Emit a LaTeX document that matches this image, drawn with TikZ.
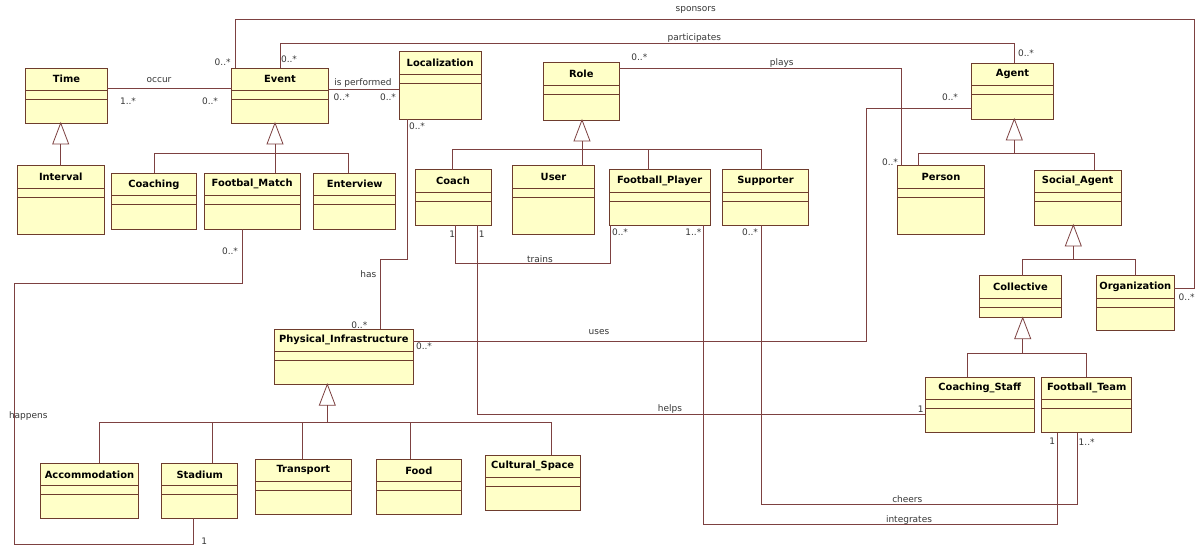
\documentclass[tikz,border=0pt]{standalone}
\usepackage{fontspec}
\setmainfont{DejaVu Sans}
\usetikzlibrary{calc}
\definecolor{boxfill}{RGB}{255,255,200}
\definecolor{boxline}{RGB}{110,60,45}
\definecolor{assoc}{RGB}{125,65,65}
\definecolor{lbl}{RGB}{55,55,55}
\tikzset{
 cls/.style={draw=boxline, fill=boxfill, line width=1pt, inner sep=0, outer sep=0, anchor=north west},
 ttl/.style={font=\bfseries\fontsize{9.9}{11}\selectfont, text=black, inner sep=0},
 sepline/.style={draw=boxline, line width=0.9pt},
 ln/.style={draw=assoc, line width=0.8pt},
 gen/.style={draw=assoc, line width=0.8pt, fill=white},
 lab/.style={font=\fontsize{9}{10}\selectfont, text=lbl, inner sep=0},
}
\newcommand\umlbox[6]{%
 \node[cls, minimum width={(#5-#3)*1pt}, minimum height={(#6-#4)*1pt}] (#1) at (#3,#4) {};
 \node[ttl] (#1-t) at ({(#3+#5)/2},{#4+11}) {#2};
 \draw[sepline] (#3,#4+22.5) -- (#5,#4+22.5) (#3,#4+31.5) -- (#5,#4+31.5);
}
\newcommand\gentri[2]{\draw[gen] (#1,#2) -- (#1-8,#2+21) -- (#1+8,#2+21) -- cycle;}
\begin{document}
\begin{tikzpicture}[x=1pt,y=-1pt]
\useasboundingbox[fill=white] (0,0) rectangle (1198,550);

% ---------- classes
\umlbox{time}{Time}{25.7}{68.3}{107.3}{123}
\umlbox{interval}{Interval}{17.3}{165.7}{104.3}{234}
\umlbox{event}{Event}{231.7}{68.3}{328.3}{123}
\umlbox{coaching}{Coaching}{111}{173.3}{196.7}{229.3}
\umlbox{match}{Footbal\_Match}{204.3}{173.3}{300}{229.3}
\umlbox{enterview}{Enterview}{313.7}{173.3}{395.7}{229.3}
\umlbox{localization}{Localization}{399.3}{51.7}{481}{119.3}
\umlbox{role}{Role}{543.3}{62.7}{619.3}{120}
\umlbox{coach}{Coach}{415}{169.7}{491}{225}
\umlbox{user}{User}{512.7}{165.7}{594.3}{234}
\umlbox{player}{Football\_Player}{609.3}{169.7}{710}{225}
\umlbox{supporter}{Supporter}{722.7}{169.7}{808.3}{225}
\umlbox{agent}{Agent}{971.7}{63.3}{1053.3}{119}
\umlbox{person}{Person}{897.7}{165.7}{984.3}{234}
\umlbox{social}{Social\_Agent}{1034.3}{170}{1121}{225}
\umlbox{collective}{Collective}{979.3}{275.7}{1061.7}{317.7}
\umlbox{organization}{Organization}{1096.3}{275.7}{1174.3}{330.7}
\umlbox{cstaff}{Coaching\_Staff}{925.3}{377.3}{1034.3}{432.7}
\umlbox{team}{Football\_Team}{1041.7}{377.3}{1131.7}{432.7}
\umlbox{pi}{Physical\_Infrastructure}{274.3}{329}{413.3}{384.3}
\umlbox{accommodation}{Accommodation}{40.7}{463.3}{138.3}{518.3}
\umlbox{stadium}{Stadium}{161.7}{463.3}{237.7}{518.3}
\umlbox{transport}{Transport}{255}{459.3}{351.7}{514.3}
\umlbox{food}{Food}{376}{459.3}{461.7}{514.3}
\umlbox{cultural}{Cultural\_Space}{485}{455}{580.3}{510}

% ---------- generalizations
\gentri{60.7}{123}
\draw[ln] (60.7,144) -- (interval.north -| 60.7,0);

\gentri{275}{123}
\draw[ln] (275,144) -- (match.north -| 275,0);
\draw[ln] (coaching.north -| 154,0) |- (348.7,153.7) -- (enterview.north -| 348.7,0);

\gentri{582}{120}
\draw[ln] (582,141) -- (user.north -| 582,0);
\draw[ln] (coach.north -| 452.7,0) |- (761.7,149.7) -- (supporter.north -| 761.7,0);
\draw[ln] (player.north -| 648.3,0) -- (648.3,149.7);

\gentri{1014.3}{119}
\draw[ln] (1014.3,140) -- (1014.3,153.7);
\draw[ln] (person.north -| 918.3,0) |- (1094.7,153.7) -- (social.north -| 1094.7,0);

\gentri{1073.3}{225}
\draw[ln] (1073.3,246) -- (1073.3,259.3);
\draw[ln] (collective.north -| 1022.7,0) |- (1135.7,259.3) -- (organization.north -| 1135.7,0);

\gentri{1022.7}{317.7}
\draw[ln] (1022.7,338.7) -- (1022.7,353.3);
\draw[ln] (cstaff.north -| 967.7,0) |- (1086,353.3) -- (team.north -| 1086,0);

\gentri{327.3}{384.3}
\draw[ln] (327.3,405.3) -- (327.3,422.7);
\draw[ln] (accommodation.north -| 99.3,0) |- (551.7,422.7) -- (cultural.north -| 551.7,0);
\draw[ln] (stadium.north -| 212.3,0) -- (212.3,422.7);
\draw[ln] (transport.north -| 302.3,0) -- (302.3,422.7);
\draw[ln] (food.north -| 410.7,0) -- (410.7,422.7);

% ---------- associations
% occur
\draw[ln] (time.east |- 0,88.3) -- (event.west |- 0,88.3);
\node[lab] at (159,80) {occur};
\node[lab] at (128,101) {1..*};
\node[lab] at (210,101) {0..*};
% sponsors
\draw[ln] (event.north -| 235.7,0) |- (1194.3,19) |- (organization.east |- 0,288.3);
\node[lab] at (695.7,10) {sponsors};
\node[lab] at (222.7,62.7) {0..*};
\node[lab] at (1186.7,297.3) {0..*};
% participates
\draw[ln] (event.north -| 280,0) |- (1014.3,43.3) -- (agent.north -| 1014.3,0);
\node[lab] at (694.3,38.3) {participates};
\node[lab] at (289,59) {0..*};
\node[lab] at (1026,53.3) {0..*};
% is performed
\draw[ln] (event.east |- 0,89) -- (localization.west |- 0,89);
\node[lab] at (363,82.7) {is performed};
\node[lab] at (341.7,97.7) {0..*};
\node[lab] at (388,97.7) {0..*};
% has
\draw[ln] (localization.south -| 407.3,0) |- (380,259.3) -- (pi.north -| 380,0);
\node[lab] at (368.3,274.3) {has};
\node[lab] at (417,126.7) {0..*};
\node[lab] at (359.3,325) {0..*};
% plays
\draw[ln] (role.east |- 0,68.3) -| (person.north -| 901.7,0);
\node[lab] at (781.7,62.7) {plays};
\node[lab] at (639.3,57.3) {0..*};
\node[lab] at (890,162.7) {0..*};
% uses
\draw[ln] (agent.west |- 0,108.3) -| (866.7,341) -- (pi.east |- 0,341);
\node[lab] at (599,331.7) {uses};
\node[lab] at (950,97.3) {0..*};
\node[lab] at (424,346.7) {0..*};
% trains
\draw[ln] (coach.south -| 455.7,0) |- (610,263.3) -- (player.south -| 610,0);
\node[lab] at (540,259.3) {trains};
\node[lab] at (452.3,234.3) {1};
\node[lab] at (620,232) {0..*};
% helps
\draw[ln] (coach.south -| 477.7,0) |- (cstaff.west |- 0,414);
\node[lab] at (670,409.3) {helps};
\node[lab] at (481.7,234.3) {1};
\node[lab] at (920.7,409.3) {1};
% cheers
\draw[ln] (supporter.south -| 761.7,0) |- (1077.3,504) -- (team.south -| 1077.3,0);
\node[lab] at (907.3,499.3) {cheers};
\node[lab] at (750,232) {0..*};
\node[lab] at (1086.7,441.7) {1..*};
% integrates
\draw[ln] (player.south -| 703.3,0) |- (1057.3,524.3) -- (team.south -| 1057.3,0);
\node[lab] at (909,520) {integrates};
\node[lab] at (693.3,232) {1..*};
\node[lab] at (1052.3,441.7) {1};
% happens
\draw[ln] (match.south -| 242.3,0) |- (14,283.3) |- (193.3,544.3) -- (stadium.south -| 193.3,0);
\node[lab] at (28.3,415.7) {happens};
\node[lab] at (230,251.7) {0..*};
\node[lab] at (204.3,541.7) {1};
\end{tikzpicture}
\end{document}
